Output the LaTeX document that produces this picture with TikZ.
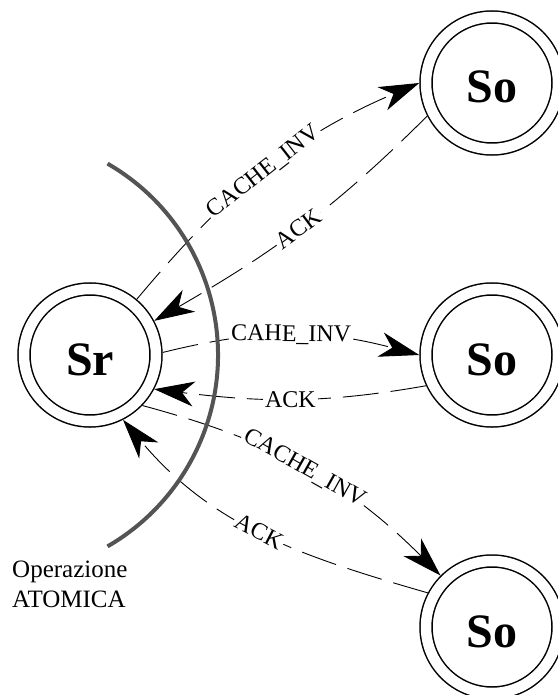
\documentclass[tikz,border=0pt]{standalone}
\usepackage{fontspec}
\setmainfont{Liberation Serif}
\usetikzlibrary{arrows.meta, positioning}

\begin{document}
\begin{tikzpicture}[x=1pt, y=1pt,
        state/.style={circle, draw, double, double distance=10.5pt, line width=1.5pt,
            minimum size=132pt, inner sep=0pt, outer sep=6.75pt,
            text height=40pt, text depth=0pt, font=\fontsize{48}{48}\selectfont\bfseries},
        msg/.style={line width=0.9pt, dash pattern=on 36pt off 12pt,
            -{Stealth[length=40pt, width=25pt, inset=12pt]}},
        lbl/.style={sloped, fill=white, inner sep=2pt, font=\fontsize{24}{24}\selectfont}]
        \useasboundingbox (0,0) rectangle (557,-695);
        \node[state] (sr) at (90,-355) {Sr};
        \node[state] (so2) at (492,-355) {So};
        \node[state, above=126.5pt of so2] (so1) {So};
        \node[state, below=126.5pt of so2] (so3) {So};
        \draw[msg] (sr.50) to[out=50, in=203] node[lbl] {CACHE\_INV} (so1.180);
        \draw[msg] (so1.207) to[out=225, in=30] node[lbl] {ACK} (sr.28);
        \draw[msg] (sr.2) to[out=14, in=165] node[lbl] {CAHE\_INV} (so2.180);
        \draw[msg] (so2.205) to[out=190, in=-7] node[lbl] {ACK} (sr.332);
        \draw[msg] (sr.316) to[out=-15, in=135] node[lbl] {CACHE\_INV} (so3.135);
        \draw[msg] (so3.152) to[out=164, in=-50] node[lbl] {ACK} (sr.297);
        \coordinate (ac) at (-3,-355);
        \draw[line width=4pt, black!67] (ac) ++(60:221) arc[start angle=60, end angle=-60, radius=221];
        \node[anchor=north west, inner sep=0pt, align=left, font=\fontsize{25}{30}\selectfont] (op) at (12,-561) {Operazione\\ATOMICA};
\end{tikzpicture}
\end{document}
